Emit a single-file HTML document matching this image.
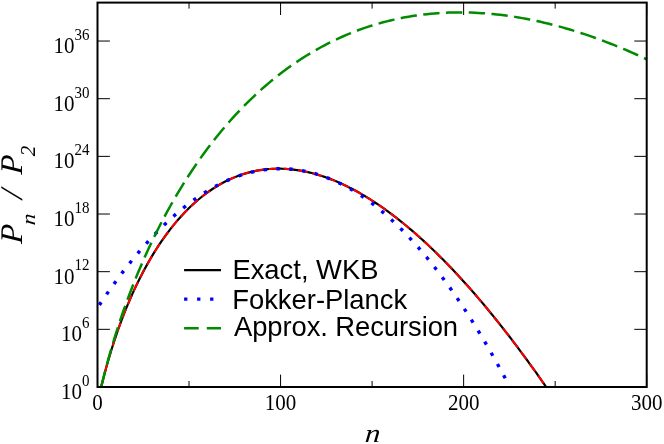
<!DOCTYPE html>
<html><head><meta charset="utf-8"><style>
html,body{margin:0;padding:0;background:#fff;}
body{width:664px;height:444px;overflow:hidden;}
svg{display:block;will-change:transform;}
.tl{font-family:"Liberation Serif",serif;font-size:21px;fill:#000;}
.ts{font-family:"Liberation Serif",serif;font-size:15px;fill:#000;}
.al{font-family:"Liberation Serif",serif;font-style:italic;font-size:29px;fill:#000;}
.as{font-family:"Liberation Serif",serif;font-style:italic;font-size:20.5px;fill:#000;}
.lg{font-family:"Liberation Sans",sans-serif;font-size:27.4px;fill:#000;}
</style></head><body>
<svg width="664" height="444" viewBox="0 0 664 444">
<rect width="664" height="444" fill="#fff"/>
<defs><clipPath id="cp"><rect x="97.50" y="2.60" width="549.20" height="384.40"/></clipPath></defs>
<g clip-path="url(#cp)" fill="none" stroke-linejoin="round">
<path d="M99.33 394.14 L101.16 387.00 L102.99 379.74 L104.82 372.74 L106.65 366.02 L108.48 359.59 L110.31 353.42 L112.15 347.50 L113.98 341.79 L115.81 336.29 L117.64 330.99 L119.47 325.86 L121.30 320.90 L123.13 316.10 L124.96 311.44 L126.79 306.93 L128.62 302.55 L130.45 298.29 L132.28 294.16 L134.11 290.14 L135.94 286.23 L137.77 282.43 L139.61 278.74 L141.44 275.14 L143.27 271.63 L145.10 268.22 L146.93 264.89 L148.76 261.65 L150.59 258.50 L152.42 255.42 L154.25 252.43 L156.08 249.51 L157.91 246.66 L159.74 243.89 L161.57 241.19 L163.40 238.55 L165.23 235.99 L167.07 233.48 L168.90 231.05 L170.73 228.67 L172.56 226.36 L174.39 224.10 L176.22 221.91 L178.05 219.77 L179.88 217.69 L181.71 215.66 L183.54 213.69 L185.37 211.77 L187.20 209.90 L189.03 208.09 L190.86 206.32 L192.69 204.61 L194.53 202.94 L196.36 201.32 L198.19 199.75 L200.02 198.22 L201.85 196.74 L203.68 195.30 L205.51 193.91 L207.34 192.57 L209.17 191.26 L211.00 190.00 L212.83 188.78 L214.66 187.60 L216.49 186.46 L218.32 185.36 L220.15 184.30 L221.99 183.28 L223.82 182.30 L225.65 181.35 L227.48 180.45 L229.31 179.58 L231.14 178.74 L232.97 177.95 L234.80 177.18 L236.63 176.46 L238.46 175.77 L240.29 175.11 L242.12 174.49 L243.95 173.90 L245.78 173.35 L247.61 172.82 L249.45 172.33 L251.28 171.88 L253.11 171.45 L254.94 171.06 L256.77 170.70 L258.60 170.36 L260.43 170.06 L262.26 169.79 L264.09 169.55 L265.92 169.34 L267.75 169.16 L269.58 169.01 L271.41 168.89 L273.24 168.80 L275.07 168.73 L276.91 168.69 L278.74 168.69 L280.57 168.70 L282.40 168.75 L284.23 168.82 L286.06 168.92 L287.89 169.05 L289.72 169.20 L291.55 169.38 L293.38 169.59 L295.21 169.82 L297.04 170.08 L298.87 170.36 L300.70 170.67 L302.53 171.01 L304.37 171.36 L306.20 171.75 L308.03 172.15 L309.86 172.59 L311.69 173.04 L313.52 173.52 L315.35 174.03 L317.18 174.55 L319.01 175.10 L320.84 175.68 L322.67 176.27 L324.50 176.89 L326.33 177.54 L328.16 178.20 L329.99 178.89 L331.83 179.60 L333.66 180.33 L335.49 181.09 L337.32 181.86 L339.15 182.66 L340.98 183.48 L342.81 184.32 L344.64 185.18 L346.47 186.07 L348.30 186.97 L350.13 187.90 L351.96 188.84 L353.79 189.81 L355.62 190.79 L357.45 191.80 L359.29 192.83 L361.12 193.88 L362.95 194.94 L364.78 196.03 L366.61 197.14 L368.44 198.27 L370.27 199.41 L372.10 200.58 L373.93 201.76 L375.76 202.97 L377.59 204.19 L379.42 205.43 L381.25 206.69 L383.08 207.97 L384.91 209.27 L386.75 210.59 L388.58 211.92 L390.41 213.28 L392.24 214.65 L394.07 216.04 L395.90 217.45 L397.73 218.87 L399.56 220.32 L401.39 221.78 L403.22 223.26 L405.05 224.75 L406.88 226.27 L408.71 227.80 L410.54 229.35 L412.37 230.92 L414.21 232.50 L416.04 234.10 L417.87 235.72 L419.70 237.35 L421.53 239.00 L423.36 240.67 L425.19 242.35 L427.02 244.05 L428.85 245.77 L430.68 247.51 L432.51 249.26 L434.34 251.02 L436.17 252.80 L438.00 254.60 L439.83 256.42 L441.67 258.25 L443.50 260.09 L445.33 261.95 L447.16 263.83 L448.99 265.73 L450.82 267.63 L452.65 269.56 L454.48 271.50 L456.31 273.45 L458.14 275.42 L459.97 277.41 L461.80 279.41 L463.63 281.43 L465.46 283.46 L467.29 285.50 L469.13 287.56 L470.96 289.64 L472.79 291.73 L474.62 293.83 L476.45 295.95 L478.28 298.09 L480.11 300.24 L481.94 302.40 L483.77 304.58 L485.60 306.77 L487.43 308.97 L489.26 311.19 L491.09 313.43 L492.92 315.68 L494.75 317.94 L496.59 320.22 L498.42 322.51 L500.25 324.81 L502.08 327.13 L503.91 329.46 L505.74 331.81 L507.57 334.17 L509.40 336.54 L511.23 338.93 L513.06 341.33 L514.89 343.74 L516.72 346.17 L518.55 348.61 L520.38 351.06 L522.21 353.53 L524.05 356.01 L525.88 358.50 L527.71 361.01 L529.54 363.53 L531.37 366.06 L533.20 368.60 L535.03 371.16 L536.86 373.73 L538.69 376.32 L540.52 378.91 L542.35 381.52 L544.18 384.14 L546.01 386.78 L547.84 389.43 L549.67 392.08 L551.51 394.76 L553.34 397.44 L555.17 400.14 L557.00 402.85 L558.83 405.57 L560.66 408.30 L562.49 411.05 L564.32 413.81 L566.15 416.58 L567.98 419.36 L569.81 422.16 L571.64 424.96 L573.47 427.78 L575.30 430.61 L577.13 433.46 L578.97 436.31 L580.80 439.18 L582.63 442.06 L584.46 444.95 L586.29 447.85 L588.12 450.76 L589.95 453.69 L591.78 456.62 L593.61 459.57 L595.44 462.53 L597.27 465.50 L599.10 468.48 L600.93 471.48 L602.76 474.48 L604.59 477.50 L606.43 480.53 L608.26 483.57 L610.09 486.62 L611.92 489.68 L613.75 492.75 L615.58 495.84 L617.41 498.93 L619.24 502.04 L621.07 505.16 L622.90 508.29 L624.73 511.42 L626.56 514.57 L628.39 517.74 L630.22 520.91 L632.05 524.09 L633.89 527.28 L635.72 530.49 L637.55 533.70 L639.38 536.93 L641.21 540.17 L643.04 543.41 L644.87 546.67 L646.70 549.94" stroke="#000" stroke-width="2.2"/>
<path d="M99.33 394.14 L101.16 387.00 L102.99 379.74 L104.82 372.74 L106.65 366.02 L108.48 359.59 L110.31 353.42 L112.15 347.50 L113.98 341.79 L115.81 336.29 L117.64 330.99 L119.47 325.86 L121.30 320.90 L123.13 316.10 L124.96 311.44 L126.79 306.93 L128.62 302.55 L130.45 298.29 L132.28 294.16 L134.11 290.14 L135.94 286.23 L137.77 282.43 L139.61 278.74 L141.44 275.14 L143.27 271.63 L145.10 268.22 L146.93 264.89 L148.76 261.65 L150.59 258.50 L152.42 255.42 L154.25 252.43 L156.08 249.51 L157.91 246.66 L159.74 243.89 L161.57 241.19 L163.40 238.55 L165.23 235.99 L167.07 233.48 L168.90 231.05 L170.73 228.67 L172.56 226.36 L174.39 224.10 L176.22 221.91 L178.05 219.77 L179.88 217.69 L181.71 215.66 L183.54 213.69 L185.37 211.77 L187.20 209.90 L189.03 208.09 L190.86 206.32 L192.69 204.61 L194.53 202.94 L196.36 201.32 L198.19 199.75 L200.02 198.22 L201.85 196.74 L203.68 195.30 L205.51 193.91 L207.34 192.57 L209.17 191.26 L211.00 190.00 L212.83 188.78 L214.66 187.60 L216.49 186.46 L218.32 185.36 L220.15 184.30 L221.99 183.28 L223.82 182.30 L225.65 181.35 L227.48 180.45 L229.31 179.58 L231.14 178.74 L232.97 177.95 L234.80 177.18 L236.63 176.46 L238.46 175.77 L240.29 175.11 L242.12 174.49 L243.95 173.90 L245.78 173.35 L247.61 172.82 L249.45 172.33 L251.28 171.88 L253.11 171.45 L254.94 171.06 L256.77 170.70 L258.60 170.36 L260.43 170.06 L262.26 169.79 L264.09 169.55 L265.92 169.34 L267.75 169.16 L269.58 169.01 L271.41 168.89 L273.24 168.80 L275.07 168.73 L276.91 168.69 L278.74 168.69 L280.57 168.70 L282.40 168.75 L284.23 168.82 L286.06 168.92 L287.89 169.05 L289.72 169.20 L291.55 169.38 L293.38 169.59 L295.21 169.82 L297.04 170.08 L298.87 170.36 L300.70 170.67 L302.53 171.01 L304.37 171.36 L306.20 171.75 L308.03 172.15 L309.86 172.59 L311.69 173.04 L313.52 173.52 L315.35 174.03 L317.18 174.55 L319.01 175.10 L320.84 175.68 L322.67 176.27 L324.50 176.89 L326.33 177.54 L328.16 178.20 L329.99 178.89 L331.83 179.60 L333.66 180.33 L335.49 181.09 L337.32 181.86 L339.15 182.66 L340.98 183.48 L342.81 184.32 L344.64 185.18 L346.47 186.07 L348.30 186.97 L350.13 187.90 L351.96 188.84 L353.79 189.81 L355.62 190.79 L357.45 191.80 L359.29 192.83 L361.12 193.88 L362.95 194.94 L364.78 196.03 L366.61 197.14 L368.44 198.27 L370.27 199.41 L372.10 200.58 L373.93 201.76 L375.76 202.97 L377.59 204.19 L379.42 205.43 L381.25 206.69 L383.08 207.97 L384.91 209.27 L386.75 210.59 L388.58 211.92 L390.41 213.28 L392.24 214.65 L394.07 216.04 L395.90 217.45 L397.73 218.87 L399.56 220.32 L401.39 221.78 L403.22 223.26 L405.05 224.75 L406.88 226.27 L408.71 227.80 L410.54 229.35 L412.37 230.92 L414.21 232.50 L416.04 234.10 L417.87 235.72 L419.70 237.35 L421.53 239.00 L423.36 240.67 L425.19 242.35 L427.02 244.05 L428.85 245.77 L430.68 247.51 L432.51 249.26 L434.34 251.02 L436.17 252.80 L438.00 254.60 L439.83 256.42 L441.67 258.25 L443.50 260.09 L445.33 261.95 L447.16 263.83 L448.99 265.73 L450.82 267.63 L452.65 269.56 L454.48 271.50 L456.31 273.45 L458.14 275.42 L459.97 277.41 L461.80 279.41 L463.63 281.43 L465.46 283.46 L467.29 285.50 L469.13 287.56 L470.96 289.64 L472.79 291.73 L474.62 293.83 L476.45 295.95 L478.28 298.09 L480.11 300.24 L481.94 302.40 L483.77 304.58 L485.60 306.77 L487.43 308.97 L489.26 311.19 L491.09 313.43 L492.92 315.68 L494.75 317.94 L496.59 320.22 L498.42 322.51 L500.25 324.81 L502.08 327.13 L503.91 329.46 L505.74 331.81 L507.57 334.17 L509.40 336.54 L511.23 338.93 L513.06 341.33 L514.89 343.74 L516.72 346.17 L518.55 348.61 L520.38 351.06 L522.21 353.53 L524.05 356.01 L525.88 358.50 L527.71 361.01 L529.54 363.53 L531.37 366.06 L533.20 368.60 L535.03 371.16 L536.86 373.73 L538.69 376.32 L540.52 378.91 L542.35 381.52 L544.18 384.14 L546.01 386.78 L547.84 389.43 L549.67 392.08 L551.51 394.76 L553.34 397.44 L555.17 400.14 L557.00 402.85 L558.83 405.57 L560.66 408.30 L562.49 411.05 L564.32 413.81 L566.15 416.58 L567.98 419.36 L569.81 422.16 L571.64 424.96 L573.47 427.78 L575.30 430.61 L577.13 433.46 L578.97 436.31 L580.80 439.18 L582.63 442.06 L584.46 444.95 L586.29 447.85 L588.12 450.76 L589.95 453.69 L591.78 456.62 L593.61 459.57 L595.44 462.53 L597.27 465.50 L599.10 468.48 L600.93 471.48 L602.76 474.48 L604.59 477.50 L606.43 480.53 L608.26 483.57 L610.09 486.62 L611.92 489.68 L613.75 492.75 L615.58 495.84 L617.41 498.93 L619.24 502.04 L621.07 505.16 L622.90 508.29 L624.73 511.42 L626.56 514.57 L628.39 517.74 L630.22 520.91 L632.05 524.09 L633.89 527.28 L635.72 530.49 L637.55 533.70 L639.38 536.93 L641.21 540.17 L643.04 543.41 L644.87 546.67 L646.70 549.94" stroke="#f00" stroke-width="2.0" stroke-dasharray="9.6 5.08" stroke-dashoffset="8.38"/>
<path d="M99.33 305.05 L101.16 302.31 L102.99 299.60 L104.82 296.92 L106.65 294.26 L108.48 291.63 L110.31 289.03 L112.15 286.45 L113.98 283.91 L115.81 281.39 L117.64 278.90 L119.47 276.44 L121.30 274.00 L123.13 271.60 L124.96 269.22 L126.79 266.87 L128.62 264.54 L130.45 262.25 L132.28 259.98 L134.11 257.74 L135.94 255.53 L137.77 253.34 L139.61 251.19 L141.44 249.06 L143.27 246.96 L145.10 244.89 L146.93 242.84 L148.76 240.82 L150.59 238.83 L152.42 236.87 L154.25 234.94 L156.08 233.03 L157.91 231.15 L159.74 229.30 L161.57 227.48 L163.40 225.69 L165.23 223.92 L167.07 222.18 L168.90 220.47 L170.73 218.79 L172.56 217.13 L174.39 215.50 L176.22 213.90 L178.05 212.33 L179.88 210.79 L181.71 209.27 L183.54 207.78 L185.37 206.32 L187.20 204.89 L189.03 203.48 L190.86 202.11 L192.69 200.76 L194.53 199.44 L196.36 198.14 L198.19 196.88 L200.02 195.64 L201.85 194.43 L203.68 193.24 L205.51 192.09 L207.34 190.96 L209.17 189.86 L211.00 188.79 L212.83 187.75 L214.66 186.73 L216.49 185.75 L218.32 184.79 L220.15 183.85 L221.99 182.95 L223.82 182.07 L225.65 181.22 L227.48 180.40 L229.31 179.61 L231.14 178.85 L232.97 178.11 L234.80 177.40 L236.63 176.72 L238.46 176.06 L240.29 175.44 L242.12 174.84 L243.95 174.27 L245.78 173.73 L247.61 173.21 L249.45 172.72 L251.28 172.27 L253.11 171.83 L254.94 171.43 L256.77 171.06 L258.60 170.71 L260.43 170.39 L262.26 170.10 L264.09 169.83 L265.92 169.59 L267.75 169.39 L269.58 169.20 L271.41 169.05 L273.24 168.93 L275.07 168.83 L276.91 168.76 L278.74 168.72 L280.57 168.70 L282.40 168.72 L284.23 168.76 L286.06 168.83 L287.89 168.93 L289.72 169.05 L291.55 169.20 L293.38 169.39 L295.21 169.59 L297.04 169.83 L298.87 170.10 L300.70 170.39 L302.53 170.71 L304.37 171.06 L306.20 171.43 L308.03 171.83 L309.86 172.27 L311.69 172.72 L313.52 173.21 L315.35 173.73 L317.18 174.27 L319.01 174.84 L320.84 175.44 L322.67 176.06 L324.50 176.72 L326.33 177.40 L328.16 178.11 L329.99 178.85 L331.83 179.61 L333.66 180.40 L335.49 181.22 L337.32 182.07 L339.15 182.95 L340.98 183.85 L342.81 184.79 L344.64 185.75 L346.47 186.73 L348.30 187.75 L350.13 188.79 L351.96 189.86 L353.79 190.96 L355.62 192.09 L357.45 193.24 L359.29 194.43 L361.12 195.64 L362.95 196.88 L364.78 198.14 L366.61 199.44 L368.44 200.76 L370.27 202.11 L372.10 203.48 L373.93 204.89 L375.76 206.32 L377.59 207.78 L379.42 209.27 L381.25 210.79 L383.08 212.33 L384.91 213.90 L386.75 215.50 L388.58 217.13 L390.41 218.79 L392.24 220.47 L394.07 222.18 L395.90 223.92 L397.73 225.69 L399.56 227.48 L401.39 229.30 L403.22 231.15 L405.05 233.03 L406.88 234.94 L408.71 236.87 L410.54 238.83 L412.37 240.82 L414.21 242.84 L416.04 244.89 L417.87 246.96 L419.70 249.06 L421.53 251.19 L423.36 253.34 L425.19 255.53 L427.02 257.74 L428.85 259.98 L430.68 262.25 L432.51 264.54 L434.34 266.87 L436.17 269.22 L438.00 271.60 L439.83 274.00 L441.67 276.44 L443.50 278.90 L445.33 281.39 L447.16 283.91 L448.99 286.45 L450.82 289.03 L452.65 291.63 L454.48 294.26 L456.31 296.92 L458.14 299.60 L459.97 302.31 L461.80 305.05 L463.63 307.82 L465.46 310.62 L467.29 313.44 L469.13 316.30 L470.96 319.18 L472.79 322.08 L474.62 325.02 L476.45 327.98 L478.28 330.97 L480.11 333.99 L481.94 337.04 L483.77 340.11 L485.60 343.21 L487.43 346.35 L489.26 349.50 L491.09 352.69 L492.92 355.90 L494.75 359.14 L496.59 362.41 L498.42 365.71 L500.25 369.04 L502.08 372.39 L503.91 375.77 L505.74 379.18 L507.57 382.61 L509.40 386.08 L511.23 389.57 L513.06 393.09 L514.89 396.64 L516.72 400.21 L518.55 403.82 L520.38 407.45 L522.21 411.10 L524.05 414.79 L525.88 418.51 L527.71 422.25 L529.54 426.02 L531.37 429.82 L533.20 433.64 L535.03 437.50 L536.86 441.38 L538.69 445.29 L540.52 449.22 L542.35 453.19 L544.18 457.18 L546.01 461.20 L547.84 465.25 L549.67 469.33 L551.51 473.43 L553.34 477.56 L555.17 481.72 L557.00 485.91 L558.83 490.12 L560.66 494.37 L562.49 498.64 L564.32 502.94 L566.15 507.26 L567.98 511.62 L569.81 516.00 L571.64 520.41 L573.47 524.85 L575.30 529.31 L577.13 533.81 L578.97 538.33 L580.80 542.88 L582.63 547.46 L584.46 552.06 L586.29 556.69 L588.12 561.35 L589.95 566.04 L591.78 570.76 L593.61 575.50 L595.44 580.27 L597.27 585.07 L599.10 589.90 L600.93 594.76 L602.76 599.64 L604.59 604.55 L606.43 609.49 L608.26 614.46 L610.09 619.45 L611.92 624.47 L613.75 629.52 L615.58 634.60 L617.41 639.71 L619.24 644.84 L621.07 650.00 L622.90 655.19 L624.73 660.41 L626.56 665.65 L628.39 670.92 L630.22 676.22 L632.05 681.55 L633.89 686.91 L635.72 692.29 L637.55 697.70 L639.38 703.14 L641.21 708.61 L643.04 714.11 L644.87 719.63 L646.70 725.18" stroke="#00f" stroke-width="3.4" stroke-dasharray="3.4 9.47" stroke-dashoffset="0"/>
<path d="M101.16 387.00 L104.82 372.37 L108.48 358.66 L112.15 345.87 L115.81 333.86 L119.47 322.52 L123.13 311.75 L126.79 301.50 L130.45 291.70 L134.11 282.32 L137.77 273.31 L141.44 264.64 L145.10 256.30 L148.76 248.25 L152.42 240.48 L156.08 232.97 L159.74 225.70 L163.40 218.67 L167.07 211.85 L170.73 205.24 L174.39 198.83 L178.05 192.61 L181.71 186.57 L185.37 180.70 L189.03 175.00 L192.69 169.46 L196.36 164.08 L200.02 158.84 L203.68 153.75 L207.34 148.80 L211.00 143.98 L214.66 139.29 L218.32 134.73 L221.99 130.29 L225.65 125.97 L229.31 121.76 L232.97 117.67 L236.63 113.69 L240.29 109.81 L243.95 106.04 L247.61 102.37 L251.28 98.80 L254.94 95.33 L258.60 91.95 L262.26 88.66 L265.92 85.47 L269.58 82.36 L273.24 79.34 L276.91 76.41 L280.57 73.56 L284.23 70.79 L287.89 68.10 L291.55 65.49 L295.21 62.96 L298.87 60.50 L302.53 58.12 L306.20 55.81 L309.86 53.58 L313.52 51.41 L317.18 49.31 L320.84 47.28 L324.50 45.32 L328.16 43.43 L331.83 41.60 L335.49 39.83 L339.15 38.13 L342.81 36.49 L346.47 34.91 L350.13 33.39 L353.79 31.94 L357.45 30.54 L361.12 29.19 L364.78 27.91 L368.44 26.68 L372.10 25.51 L375.76 24.39 L379.42 23.33 L383.08 22.32 L386.75 21.36 L390.41 20.46 L394.07 19.60 L397.73 18.80 L401.39 18.05 L405.05 17.34 L408.71 16.69 L412.37 16.09 L416.04 15.53 L419.70 15.02 L423.36 14.56 L427.02 14.14 L430.68 13.77 L434.34 13.45 L438.00 13.16 L441.67 12.93 L445.33 12.74 L448.99 12.59 L452.65 12.48 L456.31 12.42 L459.97 12.40 L463.63 12.42 L467.29 12.48 L470.96 12.59 L474.62 12.73 L478.28 12.91 L481.94 13.14 L485.60 13.40 L489.26 13.70 L492.92 14.04 L496.59 14.42 L500.25 14.84 L503.91 15.29 L507.57 15.79 L511.23 16.31 L514.89 16.88 L518.55 17.48 L522.21 18.12 L525.88 18.79 L529.54 19.50 L533.20 20.24 L536.86 21.02 L540.52 21.84 L544.18 22.68 L547.84 23.56 L551.51 24.48 L555.17 25.43 L558.83 26.41 L562.49 27.42 L566.15 28.47 L569.81 29.55 L573.47 30.66 L577.13 31.80 L580.80 32.98 L584.46 34.18 L588.12 35.42 L591.78 36.69 L595.44 37.99 L599.10 39.32 L602.76 40.67 L606.43 42.06 L610.09 43.48 L613.75 44.93 L617.41 46.41 L621.07 47.92 L624.73 49.45 L628.39 51.02 L632.05 52.61 L635.72 54.24 L639.38 55.89 L643.04 57.56 L646.70 59.27" stroke="#008b00" stroke-width="2.5" stroke-dasharray="16.35 6.44" stroke-dashoffset="0"/>
</g>
<g stroke="#000" stroke-width="1" fill="none">
<line x1="97.50" y1="387.00" x2="97.50" y2="374.60"/>
<line x1="97.50" y1="2.60" x2="97.50" y2="15.00"/>
<line x1="280.57" y1="387.00" x2="280.57" y2="374.60"/>
<line x1="280.57" y1="2.60" x2="280.57" y2="15.00"/>
<line x1="463.63" y1="387.00" x2="463.63" y2="374.60"/>
<line x1="463.63" y1="2.60" x2="463.63" y2="15.00"/>
<line x1="646.70" y1="387.00" x2="646.70" y2="374.60"/>
<line x1="646.70" y1="2.60" x2="646.70" y2="15.00"/>
<line x1="189.03" y1="387.00" x2="189.03" y2="381.00"/>
<line x1="189.03" y1="2.60" x2="189.03" y2="8.60"/>
<line x1="372.10" y1="387.00" x2="372.10" y2="381.00"/>
<line x1="372.10" y1="2.60" x2="372.10" y2="8.60"/>
<line x1="555.17" y1="387.00" x2="555.17" y2="381.00"/>
<line x1="555.17" y1="2.60" x2="555.17" y2="8.60"/>
<line x1="97.50" y1="387.00" x2="109.90" y2="387.00"/>
<line x1="646.70" y1="387.00" x2="634.30" y2="387.00"/>
<line x1="97.50" y1="329.34" x2="109.90" y2="329.34"/>
<line x1="646.70" y1="329.34" x2="634.30" y2="329.34"/>
<line x1="97.50" y1="271.68" x2="109.90" y2="271.68"/>
<line x1="646.70" y1="271.68" x2="634.30" y2="271.68"/>
<line x1="97.50" y1="214.02" x2="109.90" y2="214.02"/>
<line x1="646.70" y1="214.02" x2="634.30" y2="214.02"/>
<line x1="97.50" y1="156.36" x2="109.90" y2="156.36"/>
<line x1="646.70" y1="156.36" x2="634.30" y2="156.36"/>
<line x1="97.50" y1="98.70" x2="109.90" y2="98.70"/>
<line x1="646.70" y1="98.70" x2="634.30" y2="98.70"/>
<line x1="97.50" y1="41.04" x2="109.90" y2="41.04"/>
<line x1="646.70" y1="41.04" x2="634.30" y2="41.04"/>
</g>
<rect x="97.50" y="2.60" width="549.20" height="384.40" fill="none" stroke="#000" stroke-width="2"/>
<text transform="translate(97.50 410.4) scale(1 1.06)" x="0" y="0" text-anchor="middle" class="tl">0</text>
<text transform="translate(280.57 410.4) scale(1 1.06)" x="0" y="0" text-anchor="middle" class="tl">100</text>
<text transform="translate(463.63 410.4) scale(1 1.06)" x="0" y="0" text-anchor="middle" class="tl">200</text>
<text transform="translate(646.70 410.4) scale(1 1.06)" x="0" y="0" text-anchor="middle" class="tl">300</text>
<text transform="translate(81.90 399.10) scale(1 1.07)" x="0" y="0" text-anchor="end" class="tl">10</text>
<text transform="translate(89.40 385.80) scale(1 1.05)" x="0" y="0" text-anchor="end" class="ts">0</text>
<text transform="translate(81.90 341.44) scale(1 1.07)" x="0" y="0" text-anchor="end" class="tl">10</text>
<text transform="translate(89.40 328.14) scale(1 1.05)" x="0" y="0" text-anchor="end" class="ts">6</text>
<text transform="translate(74.40 283.78) scale(1 1.07)" x="0" y="0" text-anchor="end" class="tl">10</text>
<text transform="translate(89.40 270.48) scale(1 1.05)" x="0" y="0" text-anchor="end" class="ts">12</text>
<text transform="translate(74.40 226.12) scale(1 1.07)" x="0" y="0" text-anchor="end" class="tl">10</text>
<text transform="translate(89.40 212.82) scale(1 1.05)" x="0" y="0" text-anchor="end" class="ts">18</text>
<text transform="translate(74.40 168.46) scale(1 1.07)" x="0" y="0" text-anchor="end" class="tl">10</text>
<text transform="translate(89.40 155.16) scale(1 1.05)" x="0" y="0" text-anchor="end" class="ts">24</text>
<text transform="translate(74.40 110.80) scale(1 1.07)" x="0" y="0" text-anchor="end" class="tl">10</text>
<text transform="translate(89.40 97.50) scale(1 1.05)" x="0" y="0" text-anchor="end" class="ts">30</text>
<text transform="translate(74.40 53.14) scale(1 1.07)" x="0" y="0" text-anchor="end" class="tl">10</text>
<text transform="translate(89.40 39.84) scale(1 1.05)" x="0" y="0" text-anchor="end" class="ts">36</text>
<text transform="translate(372.2 441.8) scale(1.18 1) skewX(-4)" x="0" y="0" text-anchor="middle" style="font-size:26px" class="al">n</text>
<g transform="translate(22.4 243.9) rotate(-90)">
<text transform="translate(-0.2 0) skewX(-4)" x="0" y="0" style="font-size:31.5px" class="al">P</text>
<text transform="translate(18.4 12.6) scale(1.12 0.96) skewX(-4)" x="0" y="0" class="as">n</text>
<text transform="translate(44.6 0) skewX(-5)" x="0" y="0" style="font-size:31.5px" class="al">/</text>
<text transform="translate(69.1 0) skewX(-4)" x="0" y="0" style="font-size:31.5px" class="al">P</text>
<text x="87.7" y="12.6" style="font-size:21px" class="as">2</text>
</g>
<g fill="none">
<line x1="184.1" y1="270.2" x2="221" y2="270.2" stroke="#000" stroke-width="2.2"/>
<line x1="184.1" y1="299.2" x2="221" y2="299.2" stroke="#00f" stroke-width="3.2" stroke-dasharray="3.3 9.7"/>
<line x1="184.1" y1="328.2" x2="221" y2="328.2" stroke="#008b00" stroke-width="2.5" stroke-dasharray="14.6 8.1"/>
</g>
<text x="232.4" y="279" class="lg">Exact, WKB</text>
<text x="232.2" y="308.5" class="lg">Fokker-Planck</text>
<text x="234" y="336.4" class="lg" style="letter-spacing:-0.08px">Approx. Recursion</text>
</svg>
</body></html>
